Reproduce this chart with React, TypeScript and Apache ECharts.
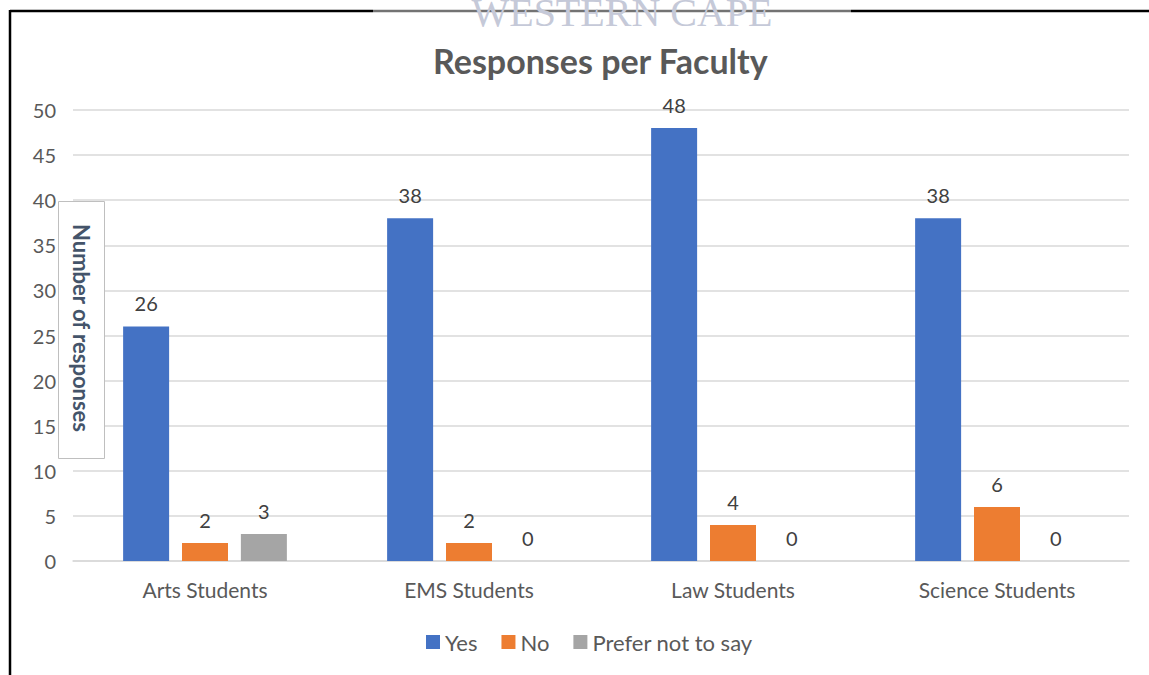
import React, { useEffect, useRef } from "react";
import * as echarts from "echarts";

const categories = ["Arts Students", "EMS Students", "Law Students", "Science Students"];
const yesValues = [26, 38, 48, 38];
const noValues = [2, 2, 4, 6];
const preferValues = [3, 0, 0, 0];
const seriesNames = ["Yes", "No", "Prefer not to say"];
const seriesColors = ["#4472c4", "#ed7d31", "#a5a5a5"];
const yTicks = { min: 0, max: 50, interval: 5 };
const titleText = "Responses per Faculty";
const yAxisTitle = "Number of responses";
const watermark = "WESTERN CAPE";

const FONT = "Lato, 'Open Sans', sans-serif";

export default function App() {
  const ref = useRef<HTMLDivElement>(null);
  useEffect(() => {
    document.body.style.margin = "0";
    const chart = echarts.init(ref.current!, undefined, { renderer: "svg" });
    const label = {
      show: true,
      position: "top",
      distance: 13,
      color: "#404040",
      fontSize: 20,
      fontFamily: FONT,
    };
    const data = [yesValues, noValues, preferValues];
    chart.setOption({
      animation: false,
      backgroundColor: "#ffffff",
      title: {
        text: titleText,
        left: 428,
        top: 38,
        textStyle: { color: "#595959", fontSize: 34, fontWeight: "bold", fontFamily: FONT },
      },
      legend: {
        top: 626,
        left: 421,
        itemWidth: 14,
        itemHeight: 14,
        itemGap: 24,
        icon: "rect",
        textStyle: { color: "#595959", fontSize: 22, fontFamily: FONT },
        data: seriesNames,
      },
      grid: { left: 73, right: 20, top: 110, bottom: 114, containLabel: false },
      xAxis: {
        type: "category",
        data: categories,
        axisLine: { show: true, lineStyle: { color: "#d9d9d9", width: 1.5 } },
        axisTick: { show: false },
        axisLabel: { color: "#595959", fontSize: 21, fontFamily: FONT, margin: 18 },
      },
      yAxis: {
        type: "value",
        min: yTicks.min,
        max: yTicks.max,
        interval: yTicks.interval,
        axisLine: { show: false },
        axisTick: { show: false },
        splitLine: { lineStyle: { color: "#d9d9d9", width: 1.5 } },
        axisLabel: { color: "#595959", fontSize: 20, fontFamily: FONT, margin: 17, align: "right" },
      },
      series: seriesNames.map((name, i) => ({
        name,
        type: "bar",
        data: data[i],
        barWidth: 46,
        barGap: "28%",
        itemStyle: { color: seriesColors[i] },
        label,
      })),
      graphic: [
        { type: "line", shape: { x1: 10, y1: 11, x2: 1149, y2: 11 }, style: { stroke: "#000", lineWidth: 2.5 }, z: 10 },
        { type: "line", shape: { x1: 10, y1: 10, x2: 10, y2: 675 }, style: { stroke: "#000", lineWidth: 2.5 }, z: 10 },
        { type: "rect", shape: { x: 373, y: 0, width: 478, height: 40 }, style: { fill: "rgba(255,255,255,0.45)" }, z: 11 },
        {
          type: "text",
          x: 622,
          y: 12,
          z: 12,
          style: {
            text: watermark,
            fill: "#c5c9d8",
            font: "40px 'Liberation Serif', 'DejaVu Serif', serif",
            textAlign: "center",
            textVerticalAlign: "middle",
          },
        },
        { type: "rect", shape: { x: 58.5, y: 201.5, width: 46, height: 257 }, style: { fill: "#fff", stroke: "#bfbfbf", lineWidth: 1 }, z: 20 },
        {
          type: "text",
          x: 81,
          y: 328,
          rotation: -Math.PI / 2,
          z: 21,
          style: {
            text: yAxisTitle,
            fill: "#44546a",
            font: "bold 22px Lato, 'Open Sans', sans-serif",
            textAlign: "center",
            textVerticalAlign: "middle",
          },
        },
      ],
    });
    return () => chart.dispose();
  }, []);
  return <div ref={ref} style={{ position: "absolute", left: 0, top: 0, width: 1149, height: 675 }} />;
}
